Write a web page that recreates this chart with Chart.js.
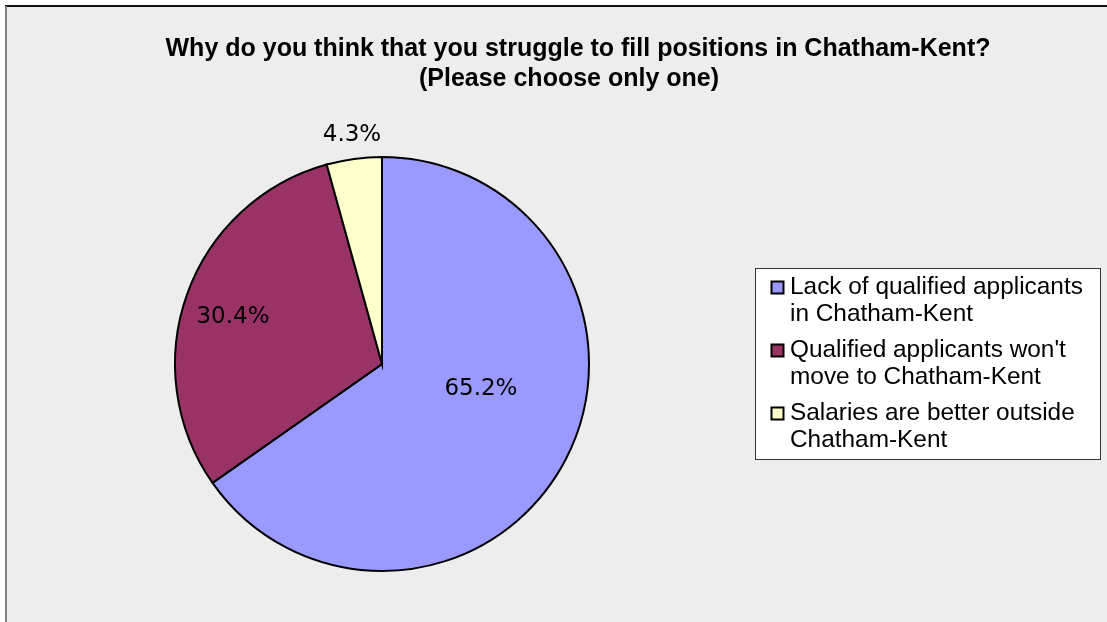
<!DOCTYPE html>
<html>
<head>
<meta charset="utf-8">
<script src="https://cdn.jsdelivr.net/npm/chart.js@4/dist/chart.umd.min.js"></script>
<style>
html,body{margin:0;padding:0;background:#fff;}
#wrap{width:1107px;height:622px;position:relative;}
</style>
</head>
<body>
<div id="wrap"><canvas id="c" width="1107" height="622"></canvas></div>
<script>
const titleLines = ["Why do you think that you struggle to fill positions in Chatham-Kent?", "(Please choose only one)"];
const categories = [
  ["Lack of qualified applicants", "in Chatham-Kent"],
  ["Qualified applicants won't", "move to Chatham-Kent"],
  ["Salaries are better outside", "Chatham-Kent"]
];
const values = [65.2, 30.4, 4.3];
const valueLabels = ["65.2%", "30.4%", "4.3%"];
const colors = ["#9999FF", "#993366", "#FFFFCC"];
// label anchor offsets relative to pie centre, in units of radius (style)
const labelOffsets = [[0.478, 0.121], [-0.72, -0.227], [-0.145, -1.108]];

const deco = {
  id: 'deco',
  beforeDraw(chart) {
    const ctx = chart.ctx;
    ctx.save();
    ctx.fillStyle = '#ffffff';
    ctx.fillRect(0, 0, chart.width, chart.height);
    ctx.fillStyle = '#EDEDED';
    ctx.fillRect(6, 7, chart.width - 6, chart.height - 7);
    ctx.fillStyle = '#111111';
    ctx.fillRect(5, 5, chart.width - 5, 2);
    ctx.fillStyle = '#808080';
    ctx.fillRect(5, 6, 2, chart.height - 6);
    // title
    ctx.fillStyle = '#000';
    ctx.font = 'bold 25px "Liberation Sans", Arial, sans-serif';
    ctx.textAlign = 'center';
    ctx.textBaseline = 'middle';
    ctx.fillText(titleLines[0], 578, 49);
    ctx.fillText(titleLines[1], 569, 79);
    ctx.restore();
  },
  afterDraw(chart) {
    const ctx = chart.ctx;
    const meta = chart.getDatasetMeta(0);
    ctx.save();
    // value labels
    ctx.fillStyle = '#000';
    ctx.font = '23px "DejaVu Sans", sans-serif';
    ctx.textAlign = 'center';
    ctx.textBaseline = 'middle';
    meta.data.forEach((arc, i) => {
      const r = arc.outerRadius;
      ctx.fillText(valueLabels[i], arc.x + labelOffsets[i][0] * r, arc.y + labelOffsets[i][1] * r);
    });
    // legend
    const lx = 755, ly = 268, lw = 345, lh = 191;
    ctx.fillStyle = '#ffffff';
    ctx.fillRect(lx, ly, lw, lh);
    ctx.strokeStyle = '#333333';
    ctx.lineWidth = 1;
    ctx.strokeRect(lx + 0.5, ly + 0.5, lw, lh);
    ctx.font = '24.4px "Liberation Sans", Arial, sans-serif';
    ctx.textAlign = 'left';
    ctx.textBaseline = 'middle';
    categories.forEach((lines, i) => {
      const y0 = 287 + i * 63;
      ctx.fillStyle = colors[i];
      ctx.fillRect(771.5, y0 - 5.5, 12, 12);
      ctx.strokeStyle = '#000';
      ctx.lineWidth = 2;
      ctx.strokeRect(771.5, y0 - 5.5, 12, 12);
      ctx.fillStyle = '#000';
      lines.forEach((t, j) => ctx.fillText(t, 790, y0 + j * 27.5));
    });
    ctx.restore();
  }
};

new Chart(document.getElementById('c'), {
  type: 'pie',
  data: {
    labels: categories,
    datasets: [{
      data: values,
      backgroundColor: colors,
      borderColor: '#000000',
      borderWidth: 2,
      borderJoinStyle: 'miter'
    }]
  },
  options: {
    responsive: false,
    animation: false,
    layout: { padding: { left: 174, right: 517, top: 156, bottom: 50 } },
    plugins: { legend: { display: false }, title: { display: false }, tooltip: { enabled: false } }
  },
  plugins: [deco]
});
</script>
</body>
</html>
